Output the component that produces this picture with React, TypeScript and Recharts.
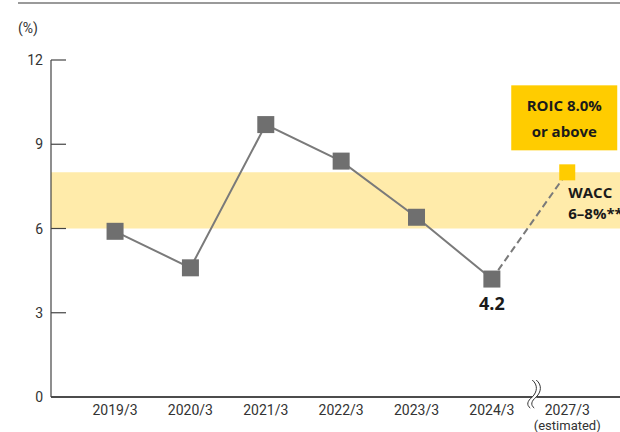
import React from "react";
import { ComposedChart, Line, XAxis, YAxis, ReferenceArea } from "recharts";

const categories = ["2019/3", "2020/3", "2021/3", "2022/3", "2023/3", "2024/3", "2027/3"];
const actualValues = [5.9, 4.6, 9.7, 8.4, 6.4, 4.2, null];
const forecastValues = [null, null, null, null, null, 4.2, 8.0];
const yTicks = [0, 3, 6, 9, 12];
const waccLow = 6;
const waccHigh = 8;
const highlightLabel = "4.2";
const targetLines = ["ROIC 8.0%", "or above"];
const waccLines = ["WACC", "6–8%**"];

const data = categories.map((c, i) => ({
  idx: i,
  cat: c,
  actual: actualValues[i],
  forecast: forecastValues[i],
}));

const GRAY = "#6f6f6f";
const YELLOW = "#FFCC00";
const BAND = "#FFEBAA";
const TICK_FONT = "Roboto, 'Liberation Sans', sans-serif";
const BOLD_FONT = "'Open Sans', 'Noto Sans', sans-serif";

const YTick = (props: any) => {
  const { x, y, payload } = props;
  return (
    <g>
      <text x={x} y={y} dy={5} textAnchor="end" fontSize={14} fill="#333" fontFamily={TICK_FONT}>
        {payload.value}
      </text>
      {payload.value !== 0 && (
        <line x1={x + 8} x2={x + 23} y1={y} y2={y} stroke="#444" strokeWidth={1.2} />
      )}
    </g>
  );
};

const XTick = (props: any) => {
  const { x, y, payload } = props;
  const i = payload.value as number;
  const label = categories[i];
  const isLast = i === categories.length - 1;
  const axisY = y - 8;
  const bx = x - 35;
  const wave = (dx: number) =>
    `M ${bx + dx},${axisY - 17} C ${bx + dx + 6},${axisY - 12} ${bx + dx + 5},${axisY - 5} ${bx + dx},${axisY} C ${bx + dx - 5},${axisY + 4} ${bx + dx - 6},${axisY + 8} ${bx + dx - 2},${axisY + 11}`;
  return (
    <g>
      {isLast && (
        <g>
          <rect x={bx} y={axisY - 2} width={4} height={4} fill="#fff" />
          <path d={wave(0)} fill="none" stroke="#333" strokeWidth={1} />
          <path d={wave(4)} fill="none" stroke="#333" strokeWidth={1} />
        </g>
      )}
      <text x={x} y={y} dy={10} textAnchor="middle" fontSize={14} fill="#333" fontFamily={TICK_FONT}>
        {label}
      </text>
      {isLast && (
        <text x={x} y={y} dy={25} textAnchor="middle" fontSize={13} fill="#333" fontFamily={TICK_FONT}>
          (estimated)
        </text>
      )}
    </g>
  );
};

const ActualDot = (props: any) => {
  const { cx, cy, index, value } = props;
  if (cx == null || cy == null || value == null) return null;
  return (
    <g key={`a${index}`}>
      <rect x={cx - 8.5} y={cy - 8.5} width={17} height={17} fill={GRAY} />
      {index === 5 && (
        <text x={cx} y={cy + 31} textAnchor="middle" fontSize={18} fontWeight={700} fill="#1a1a1a" fontFamily={BOLD_FONT}>
          {highlightLabel}
        </text>
      )}
    </g>
  );
};

const ForecastDot = (props: any) => {
  const { cx, cy, index } = props;
  if (cx == null || cy == null || index !== categories.length - 1) return <g key={`f${index}`} />;
  return (
    <g key={`f${index}`}>
      <rect x={cx - 8} y={cy - 8} width={16} height={16} fill={YELLOW} />
      <rect x={cx - 56} y={cy - 87} width={106} height={65} fill={YELLOW} />
      <text x={cx - 3} y={cy - 61} textAnchor="middle" fontSize={15} fontWeight={700} fill="#1a1a1a" fontFamily={BOLD_FONT}>
        {targetLines[0]}
      </text>
      <text x={cx - 3} y={cy - 35} textAnchor="middle" fontSize={15} fontWeight={700} fill="#1a1a1a" fontFamily={BOLD_FONT}>
        {targetLines[1]}
      </text>
      <text x={cx + 1} y={cy + 26} textAnchor="start" fontSize={15} fontWeight={700} fill="#1a1a1a" fontFamily={BOLD_FONT}>
        {waccLines[0]}
      </text>
      <text x={cx + 1} y={cy + 47} textAnchor="start" fontSize={15} fontWeight={700} fill="#1a1a1a" fontFamily={BOLD_FONT}>
        {waccLines[1]}
      </text>
    </g>
  );
};

export default function App() {
  return (
    <div style={{ position: "absolute", left: 0, top: 0, width: 620, height: 432, background: "#fff", overflow: "hidden" }}>
      <div style={{ position: "absolute", left: 18, top: 2, width: 602, height: 2, background: "#9a9a9a" }} />
      <div style={{ position: "absolute", left: 18, top: 20, fontSize: 14, color: "#333", fontFamily: TICK_FONT }}>(%)</div>
      <ComposedChart width={620} height={432} data={data} margin={{ top: 60, right: 0, bottom: 0, left: 0 }}>
        <ReferenceArea y1={waccLow} y2={waccHigh} x1={-0.85} x2={6.7} fill={BAND} fillOpacity={1} stroke="none" ifOverflow="hidden" />
        <XAxis
          dataKey="idx"
          type="number"
          domain={[-0.85, 6.7]}
          ticks={[0, 1, 2, 3, 4, 5, 6]}
          tick={<XTick />}
          tickLine={false}
          axisLine={{ stroke: "#111", strokeWidth: 1.5 }}
          height={35}
          interval={0}
          allowDataOverflow
        />
        <YAxis
          type="number"
          domain={[0, 12]}
          ticks={yTicks}
          tick={<YTick />}
          tickLine={false}
          axisLine={{ stroke: "#444", strokeWidth: 1.2 }}
          width={51}
          interval={0}
        />
        <Line
          dataKey="forecast"
          stroke="#7a7a7a"
          strokeWidth={2}
          strokeDasharray="7 4"
          dot={<ForecastDot />}
          activeDot={false}
          isAnimationActive={false}
          connectNulls={false}
        />
        <Line
          dataKey="actual"
          stroke="#7a7a7a"
          strokeWidth={2}
          dot={<ActualDot />}
          activeDot={false}
          isAnimationActive={false}
          connectNulls={false}
        />
      </ComposedChart>
    </div>
  );
}
